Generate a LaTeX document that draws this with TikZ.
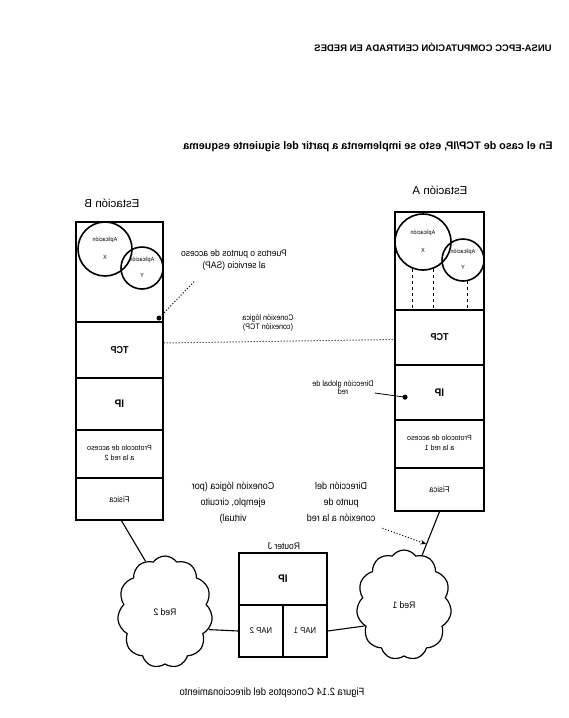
\documentclass[tikz,border=0pt]{standalone}
\usepackage{fontspec}
\setmainfont{Liberation Sans}
\usetikzlibrary{shapes.symbols,arrows.meta}
\newcommand\mt[2][0.9]{\scalebox{-#1}[1]{#2}}
\newcommand\mtab[2][0.9]{\scalebox{-#1}[1]{\begin{tabular}{@{}c@{}}#2\end{tabular}}}
\begin{document}
\begin{tikzpicture}[x=1pt,y=-1pt,
  lay/.style={draw,line width=1.4pt,inner sep=0pt,font=\fontsize{7.5}{9}\selectfont},
  app/.style={draw,circle,line width=1.6pt,inner sep=0pt,font=\fontsize{6}{7}\selectfont},
  net/.style={draw,cloud,cloud puffs=11,cloud puff arc=110,aspect=0.85,line width=1.2pt,inner sep=0pt,font=\fontsize{9.5}{11}\selectfont},
  lbl/.style={font=\fontsize{9.5}{11}\selectfont,inner sep=1pt},
  conn/.style={line width=1.1pt},
  dots/.style={dotted,line width=1pt},
  sapl/.style={dashed,line width=0.6pt,-{Bar[width=5pt]}}
]
\fill[white] (0,0) rectangle (569,718);
\useasboundingbox (0,0) rectangle (569,718);

% headings
\node[font=\bfseries\fontsize{9.5}{11}\selectfont] (hdr) at (433,47) {\mt[1.0]{UNSA-EPCC COMPUTACIÓN CENTRADA EN REDES}};
\node[font=\bfseries\fontsize{11}{13}\selectfont] (sub) at (368,147) {\mt[0.98]{En el caso de TCP/IP, esto se implementa a partir del siguiente esquema}};

% station B
\node[font=\fontsize{11.5}{13}\selectfont] (staB) at (112,203) {\mt[1.0]{Estación B}};
\node[lay,minimum width=87pt,minimum height=100pt] (appB) at (119.5,272) {};
\node[lay,minimum width=87pt,minimum height=56pt,font=\bfseries\fontsize{10}{11}\selectfont] (tcpB) at (119.5,350) {\mt{TCP}};
\node[lay,minimum width=87pt,minimum height=52pt,font=\bfseries\fontsize{11}{12}\selectfont] (ipB) at (119.5,404) {\mt{IP}};
\node[lay,minimum width=87pt,minimum height=48pt] (proB) at (119.5,454) {\mtab[0.95]{Protocolo de acceso\\[1pt] a la red 2}};
\node[lay,minimum width=87pt,minimum height=42pt,font=\fontsize{8.5}{10}\selectfont] (fisB) at (119.5,499) {\mt{Física}};
\node[app,minimum size=54pt] (ap1B) at (105,249) {\mtab{Aplicación\\[11pt] X}};
\node[app,minimum size=42pt] (ap2B) at (142,268) {\mtab{Aplicación\\[9pt] Y}};
\node[circle,fill,inner sep=0pt,minimum size=5pt] (sapdot) at (159,318) {};

% station A
\node[font=\fontsize{11.5}{13}\selectfont] (staA) at (440,190) {\mt[1.0]{Estación A}};
\node[lay,minimum width=89pt,minimum height=98pt] (appA) at (439.5,261) {};
\node[lay,minimum width=89pt,minimum height=55pt,font=\bfseries\fontsize{10}{11}\selectfont] (tcpA) at (439.5,337.5) {\mt{TCP}};
\node[lay,minimum width=89pt,minimum height=55pt,font=\bfseries\fontsize{11}{12}\selectfont] (ipA) at (439.5,392.5) {\mt{IP}};
\node[lay,minimum width=89pt,minimum height=48pt] (proA) at (439.5,444) {\mtab[0.95]{Protocolo de acceso\\[1pt] a la red 1}};
\node[lay,minimum width=89pt,minimum height=43pt,font=\fontsize{8.5}{10}\selectfont] (fisA) at (439.5,489.5) {\mt{Física}};
\node[app,minimum size=56pt] (ap1A) at (423,242) {\mtab{Aplicación\\[11pt] X}};
\node[app,minimum size=42pt] (ap2A) at (463,260) {\mtab{Aplicación\\[9pt] Y}};
\draw[sapl] (ap1A.-111) -- (ap1A.-111 |- appA.south);
\draw[sapl] (ap1A.-69) -- (ap1A.-69 |- appA.south);
\draw[sapl] (ap2A.-78) -- (ap2A.-78 |- appA.south);

% router
\node[font=\fontsize{9.5}{11}\selectfont] (rtr) at (284,546) {\mt{Router J}};
\node[lay,minimum width=88pt,minimum height=52pt,font=\bfseries\fontsize{11}{12}\selectfont] (ipR) at (283,579) {\mt{IP}};
\node[lay,minimum width=44pt,minimum height=52pt,font=\fontsize{8.5}{10}\selectfont] (nap2) at (261,631) {\mt{NAP 2}};
\node[lay,minimum width=44pt,minimum height=52pt,font=\fontsize{8.5}{10}\selectfont] (nap1) at (305,631) {\mt{NAP 1}};

% networks
\node[net,minimum width=95pt,minimum height=112pt] (red2) at (165,612) {\mt{Red 2}};
\node[net,minimum width=95pt,minimum height=110pt] (red1) at (404,605) {\mt{Red 1}};

% labels
\node[lbl] (sapLbl) at (234,260) {\mtab{Puertos o puntos de acceso\\[1pt] al servicio (SAP)}};
\node[lbl,font=\fontsize{8}{9.5}\selectfont] (tcpLbl) at (268,323) {\mtab{Conexión lógica\\[0pt] (conexión TCP)}};
\node[lbl,font=\fontsize{8}{9}\selectfont] (glbLbl) at (343,389) {\mtab{Dirección global de\\[-1pt] red}};
\node[lbl,font=\fontsize{10}{12}\selectfont] (vcLbl) at (233,503) {\mtab{Conexión lógica (por\\[4pt] ejemplo, circuito\\[4pt] virtual)}};
\node[lbl,font=\fontsize{10}{12}\selectfont] (atLbl) at (341,503) {\mtab{Dirección del\\[4pt] punto de\\[4pt] conexión a la red}};
\node[font=\fontsize{10.5}{12}\selectfont] (cap) at (272,693) {\mt{Figura 2.14 Conceptos del direccionamiento}};

% connectors
\draw[conn] ([xshift=2pt]fisB.south) -- (red2.111);
\draw[conn] (red2.-22) -- (nap2.west);
\draw[conn] (nap1.east) -- (red1.208);
\draw[conn] (fisA.south) -- coordinate[pos=0.75] (attA) (red1.70);
\draw[dots] ([xshift=-40pt,yshift=-9pt]sapLbl.south) -- (sapdot);
\draw[dots] ([yshift=7pt]tcpB.east) -- ([yshift=-2pt]tcpA.west);
\draw[line width=0.8pt,-{Circle[length=5pt]}] ([yshift=-4pt]glbLbl.east) -- ([xshift=-32pt,yshift=-5pt]ipA.center);
\draw[dots,-{Stealth[length=6pt]}] ([xshift=6pt,yshift=-2pt]atLbl.south east) -- (attA);
\end{tikzpicture}
\end{document}
